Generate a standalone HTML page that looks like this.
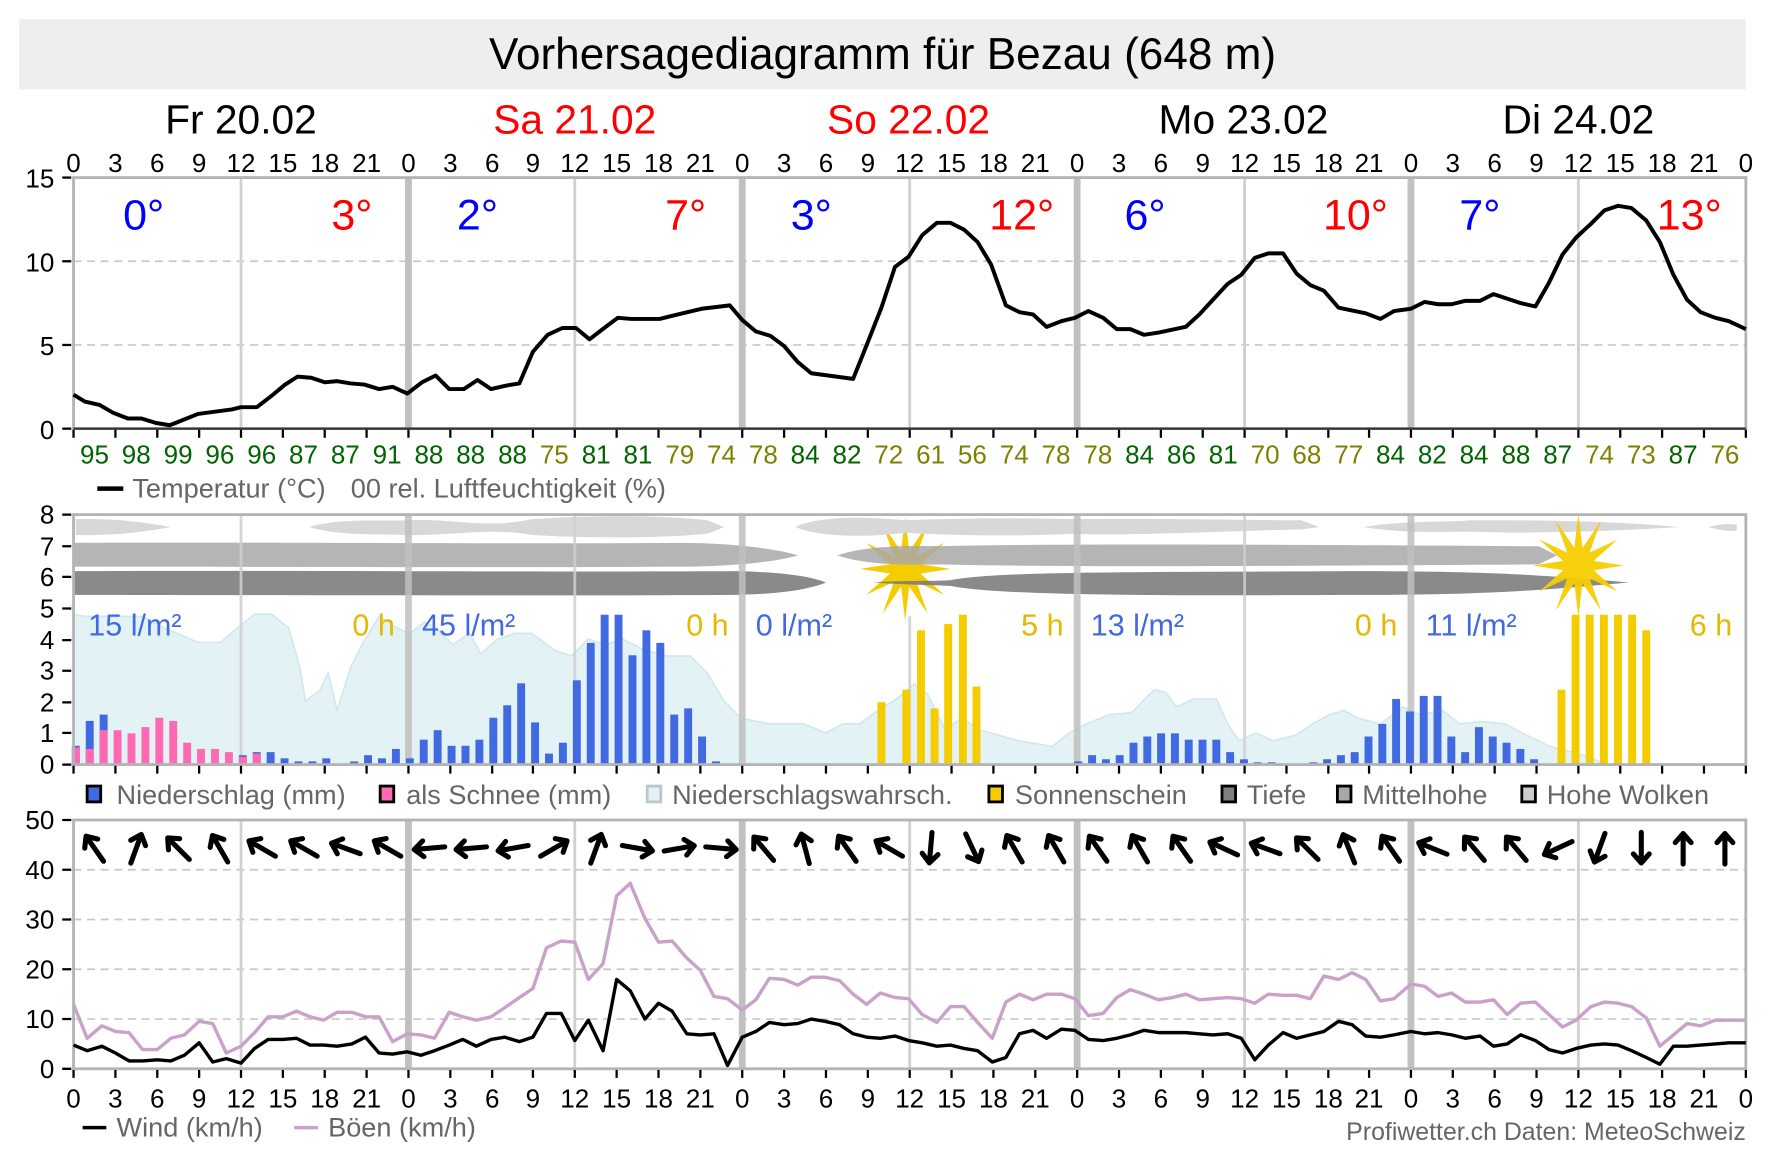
<!DOCTYPE html>
<html><head><meta charset="utf-8"><style>
html,body{margin:0;padding:0;background:#fff;}
svg{display:block;}
text{font-family:"Liberation Sans",Arial,sans-serif;}
</style></head><body>
<svg width="1773" height="1174" viewBox="0 0 1567 1038" preserveAspectRatio="none" xmlns="http://www.w3.org/2000/svg">
<rect x="0" y="0" width="1567" height="1038" fill="#fff"/>
<rect x="17" y="17" width="1526" height="62" fill="#eeeeee"/>
<text x="780" y="61" font-size="39" text-anchor="middle" fill="#000">Vorhersagediagramm für Bezau (648 m)</text>
<g font-size="36" text-anchor="middle">
<text x="213" y="118" fill="#000">Fr 20.02</text>
<text x="508" y="118" fill="#f00">Sa 21.02</text>
<text x="803" y="118" fill="#f00">So 22.02</text>
<text x="1099" y="118" fill="#000">Mo 23.02</text>
<text x="1395" y="118" fill="#000">Di 24.02</text>
</g>
<g font-size="23" text-anchor="middle" fill="#000">
<text x="65" y="152">0</text><text x="102" y="152">3</text><text x="139" y="152">6</text><text x="176" y="152">9</text><text x="213" y="152">12</text><text x="250" y="152">15</text><text x="287" y="152">18</text><text x="324" y="152">21</text>
<text x="361" y="152">0</text><text x="398" y="152">3</text><text x="435" y="152">6</text><text x="471" y="152">9</text><text x="508" y="152">12</text><text x="545" y="152">15</text><text x="582" y="152">18</text><text x="619" y="152">21</text>
<text x="656" y="152">0</text><text x="693" y="152">3</text><text x="730" y="152">6</text><text x="767" y="152">9</text><text x="804" y="152">12</text><text x="841" y="152">15</text><text x="878" y="152">18</text><text x="915" y="152">21</text>
<text x="952" y="152">0</text><text x="989" y="152">3</text><text x="1026" y="152">6</text><text x="1063" y="152">9</text><text x="1100" y="152">12</text><text x="1137" y="152">15</text><text x="1174" y="152">18</text><text x="1210" y="152">21</text>
<text x="1247" y="152">0</text><text x="1284" y="152">3</text><text x="1321" y="152">6</text><text x="1358" y="152">9</text><text x="1395" y="152">12</text><text x="1432" y="152">15</text><text x="1469" y="152">18</text><text x="1506" y="152">21</text><text x="1543" y="152">0</text>
</g>

<g stroke="#c8c8c8" stroke-width="1.5" stroke-dasharray="7,5">
<line x1="65" y1="231" x2="1543" y2="231"/><line x1="65" y1="305" x2="1543" y2="305"/>
</g>
<g stroke="#d0d0d0" stroke-width="2.5">
<line x1="213" y1="157" x2="213" y2="379"/><line x1="508" y1="157" x2="508" y2="379"/><line x1="804" y1="157" x2="804" y2="379"/><line x1="1100" y1="157" x2="1100" y2="379"/><line x1="1395" y1="157" x2="1395" y2="379"/>
</g>
<g stroke="#c0c0c0" stroke-width="6">
<line x1="361" y1="157" x2="361" y2="379"/><line x1="656" y1="157" x2="656" y2="379"/><line x1="952" y1="157" x2="952" y2="379"/><line x1="1247" y1="157" x2="1247" y2="379"/>
</g>
<rect x="65" y="157" width="1478" height="222" fill="none" stroke="#b4b4b4" stroke-width="2.5"/>
<line x1="65" y1="379" x2="1543" y2="379" stroke="#333" stroke-width="2"/>
<g font-size="23" text-anchor="end" fill="#000">
<text x="48" y="166">15</text><text x="48" y="240">10</text><text x="48" y="314">5</text><text x="48" y="388">0</text>
</g>
<g stroke="#000" stroke-width="2">
<line x1="55" y1="157" x2="63" y2="157"/><line x1="55" y1="231" x2="63" y2="231"/><line x1="55" y1="305" x2="63" y2="305"/><line x1="55" y1="379" x2="63" y2="379"/>
</g>
<g font-size="38" text-anchor="middle">
<text x="127" y="203" fill="#00f">0°</text><text x="311" y="203" fill="#f00">3°</text>
<text x="422" y="203" fill="#00f">2°</text><text x="606" y="203" fill="#f00">7°</text>
<text x="717" y="203" fill="#00f">3°</text><text x="903" y="203" fill="#f00">12°</text>
<text x="1012" y="203" fill="#00f">6°</text><text x="1198" y="203" fill="#f00">10°</text>
<text x="1308" y="203" fill="#00f">7°</text><text x="1493" y="203" fill="#f00">13°</text>
</g>
<polyline fill="none" stroke="#000" stroke-width="3.5" stroke-linejoin="round" points="65,349 75,355 88,358 100,365 113,370 125,370 138,374 150,376 160,372 175,366 190,364 205,362 213,360 227,360 240,350 252,340 263,333 275,334 287,338 298,337 310,339 322,340 335,344 347,342 360,348 373,338 385,332 397,344 410,344 422,336 434,344 447,341 459,339 471,311 484,296 497,290 509,290 521,300 534,290 546,281 558,282 583,282 595,279 620,273 645,270 656,283 668,293 681,297 693,306 705,320 717,330 754,335 766,305 779,272 791,236 803,227 815,208 828,197 840,197 852,203 864,214 876,234 889,270 901,276 913,278 925,289 938,284 950,281 962,275 975,281 987,291 999,291 1011,296 1024,294 1048,289 1060,278 1072,265 1085,251 1097,243 1109,228 1121,224 1134,224 1146,242 1158,252 1170,257 1183,272 1207,277 1220,282 1232,275 1247,273 1259,267 1271,269 1283,269 1295,266 1308,266 1320,260 1332,264 1344,268 1357,271 1369,250 1381,225 1393,210 1406,198 1418,186 1430,182 1442,184 1455,195 1467,214 1479,243 1491,265 1503,276 1516,281 1528,284 1543,291"/>
<g stroke="#000" stroke-width="2">
<path d="M65,380v7M102,380v7M139,380v7M176,380v7M213,380v7M250,380v7M287,380v7M324,380v7M361,380v7M398,380v7M435,380v7M471,380v7M508,380v7M545,380v7M582,380v7M619,380v7M656,380v7M693,380v7M730,380v7M767,380v7M804,380v7M841,380v7M878,380v7M915,380v7M952,380v7M989,380v7M1026,380v7M1063,380v7M1100,380v7M1137,380v7M1174,380v7M1210,380v7M1247,380v7M1284,380v7M1321,380v7M1358,380v7M1395,380v7M1432,380v7M1469,380v7M1506,380v7M1543,380v7"/>
</g>
<g font-size="23" text-anchor="middle">
<text x="83.5" y="410" fill="#006400">95</text><text x="120.4" y="410" fill="#006400">98</text><text x="157.4" y="410" fill="#006400">99</text><text x="194.3" y="410" fill="#006400">96</text><text x="231.3" y="410" fill="#006400">96</text><text x="268.2" y="410" fill="#006400">87</text><text x="305.2" y="410" fill="#006400">87</text><text x="342.1" y="410" fill="#006400">91</text>
<text x="379.1" y="410" fill="#006400">88</text><text x="416" y="410" fill="#006400">88</text><text x="453" y="410" fill="#006400">88</text><text x="489.9" y="410" fill="#808000">75</text><text x="526.9" y="410" fill="#006400">81</text><text x="563.8" y="410" fill="#006400">81</text><text x="600.8" y="410" fill="#808000">79</text><text x="637.7" y="410" fill="#808000">74</text>
<text x="674.7" y="410" fill="#808000">78</text><text x="711.6" y="410" fill="#006400">84</text><text x="748.6" y="410" fill="#006400">82</text><text x="785.5" y="410" fill="#808000">72</text><text x="822.5" y="410" fill="#808000">61</text><text x="859.4" y="410" fill="#808000">56</text><text x="896.4" y="410" fill="#808000">74</text><text x="933.3" y="410" fill="#808000">78</text>
<text x="970.3" y="410" fill="#808000">78</text><text x="1007.2" y="410" fill="#006400">84</text><text x="1044.2" y="410" fill="#006400">86</text><text x="1081.1" y="410" fill="#006400">81</text><text x="1118.1" y="410" fill="#808000">70</text><text x="1155" y="410" fill="#808000">68</text><text x="1192" y="410" fill="#808000">77</text><text x="1228.9" y="410" fill="#006400">84</text>
<text x="1265.9" y="410" fill="#006400">82</text><text x="1302.8" y="410" fill="#006400">84</text><text x="1339.8" y="410" fill="#006400">88</text><text x="1376.7" y="410" fill="#006400">87</text><text x="1413.7" y="410" fill="#808000">74</text><text x="1450.6" y="410" fill="#808000">73</text><text x="1487.6" y="410" fill="#006400">87</text><text x="1524.5" y="410" fill="#808000">76</text>
</g>
<line x1="86" y1="432" x2="109" y2="432" stroke="#000" stroke-width="4"/>
<text x="117" y="440" font-size="24" fill="#666">Temperatur (°C)</text>
<text x="310" y="440" font-size="24" fill="#666">00 rel. Luftfeuchtigkeit (%)</text>

<!-- PLOT 2 -->
<polygon fill="#e3f2f5" stroke="#d2e8ee" stroke-width="1.5" points="65,676 65,543 75,545 90,545 125,545 145,555 175,568 195,568 210,555 225,543 240,543 255,555 265,590 270,620 283,610 290,595 298,628 310,590 320,570 335,545 350,555 362,560 375,550 385,555 400,570 415,560 425,578 440,565 455,560 470,560 490,575 505,580 520,565 535,570 550,565 570,575 590,580 610,580 625,595 640,620 655,635 680,640 710,640 730,648 745,640 760,640 780,625 790,620 808,605 820,614 835,645 850,635 865,645 900,655 930,660 945,648 960,640 980,632 1000,630 1010,620 1020,610 1030,612 1040,625 1055,618 1075,618 1085,640 1095,655 1110,648 1125,655 1145,650 1160,640 1175,632 1188,628 1200,635 1220,640 1240,625 1255,632 1275,628 1290,640 1310,638 1330,640 1345,648 1370,660 1400,668 1420,676"/>
<g fill="#f5cc00">
<polygon transform="translate(800,503) scale(1,1.15)" points="0,-40 3.6,-13.5 20,-34.6 9.9,-9.9 34.6,-20 13.5,-3.6 40,0 13.5,3.6 34.6,20 9.9,9.9 20,34.6 3.6,13.5 0,40 -3.6,13.5 -20,34.6 -9.9,9.9 -34.6,20 -13.5,3.6 -40,0 -13.5,-3.6 -34.6,-20 -9.9,-9.9 -20,-34.6 -3.6,-13.5"/>
</g>
<g fill="#d8d8d8">
<path d="M67,459 C100,458 130,462 151,466 C130,470 100,474 67,473 Z"/>
<path d="M273,466 C300,458 330,461 360,460 C400,458 430,468 470,459 C520,456 580,455 625,460 L640,466 L625,472 C580,476 520,476 470,473 C430,466 400,474 360,473 C330,472 300,474 273,466 Z"/>
<path d="M703,466 C720,457 760,456 800,460 C850,458 900,458 950,459 C1000,458 1100,460 1150,460 L1166,466 L1150,468 C1100,469 1000,474 950,472 C900,474 850,474 800,471 C760,476 720,474 703,466 Z"/>
<path d="M1205,466 C1240,460 1280,462 1300,460 C1350,460 1420,460 1484,466 C1420,470 1350,472 1300,470 C1280,470 1240,472 1205,466 Z"/>
<path d="M1510,466 C1520,463 1530,463 1535,464 L1535,469 C1530,470 1520,469 1510,466 Z"/>
</g>
<g fill="#a8a8a8" fill-opacity="0.85">
<path d="M65,480 C200,479 400,481 600,480 C650,480 690,486 705,491 C690,496 650,501 600,501 C400,502 200,501 65,501 Z"/>
<path d="M740,491 C760,484 790,482 830,483 C950,480 1200,482 1360,483 L1376,491 L1360,499 C1200,500 950,502 830,499 C790,500 760,498 740,491 Z"/>
</g>
<g fill="#7a7a7a" fill-opacity="0.88">
<path d="M65,505 C250,504 500,506 650,505 C700,506 720,511 730,515 C720,519 700,525 650,526 C500,527 250,526 65,526 Z"/>
<path d="M772,515 C800,513 820,514 840,513 C880,505 1000,506 1200,505 C1330,505 1380,510 1440,515 C1380,520 1330,526 1200,526 C1000,527 880,526 840,518 C820,517 800,517 772,515 Z"/>
</g>
<g fill="#f5cc00" fill-opacity="0.95">
<polygon transform="translate(1395,500) scale(1,1.15)" points="0,-40 3.6,-13.5 20,-34.6 9.9,-9.9 34.6,-20 13.5,-3.6 40,0 13.5,3.6 34.6,20 9.9,9.9 20,34.6 3.6,13.5 0,40 -3.6,13.5 -20,34.6 -9.9,9.9 -34.6,20 -13.5,3.6 -40,0 -13.5,-3.6 -34.6,-20 -9.9,-9.9 -20,-34.6 -3.6,-13.5"/>
</g>
<g stroke="#c0c0c0" stroke-width="6" opacity="0.85">
<line x1="361" y1="455" x2="361" y2="676"/><line x1="656" y1="455" x2="656" y2="676"/><line x1="952" y1="455" x2="952" y2="676"/><line x1="1247" y1="455" x2="1247" y2="676"/>
</g>
<g stroke="#d0d0d0" stroke-width="2.5" opacity="0.85">
<line x1="213" y1="455" x2="213" y2="676"/><line x1="508" y1="455" x2="508" y2="676"/><line x1="804" y1="545" x2="804" y2="676"/><line x1="1100" y1="455" x2="1100" y2="676"/>
</g>
<g fill="#4169e1">
<rect x="63.5" y="659.4" width="7" height="16.6"/><rect x="75.8" y="637.4" width="7" height="38.6"/><rect x="88.1" y="631.8" width="7" height="44.2"/>
<rect x="211.1" y="667.7" width="7" height="8.3"/><rect x="223.4" y="665" width="7" height="11"/><rect x="235.7" y="665" width="7" height="11"/>
<rect x="248" y="670.5" width="7" height="5.5"/><rect x="260.3" y="673.2" width="7" height="2.8"/><rect x="272.6" y="673.2" width="7" height="2.8"/><rect x="284.9" y="670.5" width="7" height="5.5"/>
<rect x="309.5" y="673.2" width="7" height="2.8"/><rect x="321.8" y="667.7" width="7" height="8.3"/><rect x="334.1" y="670.5" width="7" height="5.5"/><rect x="346.4" y="662.2" width="7" height="13.8"/>
<rect x="358.7" y="670.5" width="7" height="5.5"/><rect x="371" y="654" width="7" height="22"/><rect x="383.3" y="645.6" width="7" height="30.4"/><rect x="395.6" y="659.4" width="7" height="16.6"/>
<rect x="407.9" y="659.4" width="7" height="16.6"/><rect x="420.2" y="654" width="7" height="22"/><rect x="432.5" y="634.6" width="7" height="41.4"/><rect x="444.8" y="623.6" width="7" height="52.4"/>
<rect x="457.1" y="604.2" width="7" height="71.8"/><rect x="469.4" y="638.7" width="7" height="37.3"/><rect x="481.7" y="666.3" width="7" height="9.7"/><rect x="494" y="656.7" width="7" height="19.3"/>
<rect x="506.3" y="601.5" width="7" height="74.5"/><rect x="518.6" y="568.4" width="7" height="107.6"/><rect x="530.9" y="543.5" width="7" height="132.5"/><rect x="543.2" y="543.5" width="7" height="132.5"/>
<rect x="555.5" y="579.4" width="7" height="96.6"/><rect x="567.8" y="557.3" width="7" height="118.7"/><rect x="580.1" y="568.4" width="7" height="107.6"/><rect x="592.4" y="631.8" width="7" height="44.2"/>
<rect x="604.7" y="626.3" width="7" height="49.7"/><rect x="617" y="651.2" width="7" height="24.8"/><rect x="629.3" y="673.2" width="7" height="2.8"/>
<rect x="949.5" y="673.2" width="7" height="2.8"/><rect x="961.7" y="667.7" width="7" height="8.3"/><rect x="973.9" y="671.3" width="7" height="4.7"/><rect x="986.1" y="667.7" width="7" height="8.3"/>
<rect x="998.3" y="656.7" width="7" height="19.3"/><rect x="1010.5" y="651.2" width="7" height="24.8"/><rect x="1022.7" y="648.4" width="7" height="27.6"/><rect x="1034.9" y="648.4" width="7" height="27.6"/>
<rect x="1047.1" y="654" width="7" height="22"/><rect x="1059.3" y="654" width="7" height="22"/><rect x="1071.5" y="654" width="7" height="22"/><rect x="1083.7" y="665" width="7" height="11"/>
<rect x="1095.9" y="671.3" width="7" height="4.7"/><rect x="1108.1" y="674" width="7" height="2"/><rect x="1120.3" y="674" width="7" height="2"/>
<rect x="1157.2" y="674" width="7" height="2"/><rect x="1169.4" y="671.3" width="7" height="4.7"/><rect x="1181.6" y="667.7" width="7" height="8.3"/><rect x="1193.8" y="665" width="7" height="11"/>
<rect x="1206" y="651.2" width="7" height="24.8"/><rect x="1218.2" y="640.1" width="7" height="35.9"/><rect x="1230.4" y="618" width="7" height="58"/><rect x="1242.6" y="629.1" width="7" height="46.9"/>
<rect x="1254.8" y="615.3" width="7" height="60.7"/><rect x="1267" y="615.3" width="7" height="60.7"/><rect x="1279.2" y="651.2" width="7" height="24.8"/><rect x="1291.4" y="665" width="7" height="11"/>
<rect x="1303.6" y="642.9" width="7" height="33.1"/><rect x="1315.8" y="651.2" width="7" height="24.8"/><rect x="1328" y="656.7" width="7" height="19.3"/><rect x="1340.2" y="662.2" width="7" height="13.8"/><rect x="1352.4" y="671.3" width="7" height="4.7"/>
</g>
<g fill="#ff69b4">
<rect x="63.5" y="660.8" width="7" height="15.2"/><rect x="75.8" y="662.2" width="7" height="13.8"/><rect x="88.1" y="645.6" width="7" height="30.4"/>
<rect x="100.4" y="645.6" width="7" height="30.4"/><rect x="112.7" y="648.4" width="7" height="27.6"/><rect x="125" y="642.9" width="7" height="33.1"/><rect x="137.3" y="634.6" width="7" height="41.4"/>
<rect x="149.6" y="637.4" width="7" height="38.6"/><rect x="161.9" y="656.7" width="7" height="19.3"/><rect x="174.2" y="662.2" width="7" height="13.8"/><rect x="186.5" y="662.2" width="7" height="13.8"/>
<rect x="198.8" y="665" width="7" height="11"/><rect x="211.1" y="669.1" width="7" height="6.9"/><rect x="223.4" y="666.3" width="7" height="9.7"/>
</g>
<g fill="#f5cc00">
<rect x="775.5" y="620.8" width="7" height="55.2"/><rect x="797.5" y="609.8" width="7" height="66.2"/><rect x="810.5" y="557.3" width="7" height="118.7"/><rect x="822.5" y="626.3" width="7" height="49.7"/>
<rect x="834.5" y="551.8" width="7" height="124.2"/><rect x="847.5" y="543.5" width="7" height="132.5"/><rect x="859.5" y="607" width="7" height="69"/>
<rect x="1376.5" y="609.8" width="7" height="66.2"/><rect x="1389" y="543.5" width="7" height="132.5"/><rect x="1401.5" y="543.5" width="7" height="132.5"/><rect x="1414" y="543.5" width="7" height="132.5"/>
<rect x="1426.5" y="543.5" width="7" height="132.5"/><rect x="1439" y="543.5" width="7" height="132.5"/><rect x="1451.5" y="557.3" width="7" height="118.7"/>
</g>
<g font-size="27">
<text x="78" y="562" fill="#4169e1">15 l/m²</text><text x="349" y="562" fill="#e6b800" text-anchor="end">0 h</text>
<text x="373" y="562" fill="#4169e1">45 l/m²</text><text x="644" y="562" fill="#e6b800" text-anchor="end">0 h</text>
<text x="668" y="562" fill="#4169e1">0 l/m²</text><text x="940" y="562" fill="#e6b800" text-anchor="end">5 h</text>
<text x="964" y="562" fill="#4169e1">13 l/m²</text><text x="1235" y="562" fill="#e6b800" text-anchor="end">0 h</text>
<text x="1260" y="562" fill="#4169e1">11 l/m²</text><text x="1531" y="562" fill="#e6b800" text-anchor="end">6 h</text>
</g>
<rect x="65" y="455" width="1478" height="221" fill="none" stroke="#b4b4b4" stroke-width="2.5"/>
<g font-size="23" text-anchor="end" fill="#000">
<text x="48" y="463">8</text><text x="48" y="491">7</text><text x="48" y="518">6</text><text x="48" y="546">5</text><text x="48" y="574">4</text><text x="48" y="601">3</text><text x="48" y="629">2</text><text x="48" y="656">1</text><text x="48" y="684">0</text>
</g>
<g stroke="#000" stroke-width="2">
<path d="M55,455h8M55,483h8M55,510h8M55,538h8M55,566h8M55,593h8M55,621h8M55,648h8M55,676h8"/>
<path d="M65,677v7M102,677v7M139,677v7M176,677v7M213,677v7M250,677v7M287,677v7M324,677v7M361,677v7M398,677v7M435,677v7M471,677v7M508,677v7M545,677v7M582,677v7M619,677v7M656,677v7M693,677v7M730,677v7M767,677v7M804,677v7M841,677v7M878,677v7M915,677v7M952,677v7M989,677v7M1026,677v7M1063,677v7M1100,677v7M1137,677v7M1174,677v7M1210,677v7M1247,677v7M1284,677v7M1321,677v7M1358,677v7M1395,677v7M1432,677v7M1469,677v7M1506,677v7M1543,677v7"/>
</g>
<g stroke-width="2.5" stroke="#000">
<rect x="77" y="695" width="12" height="14" fill="#4169e1"/>
<rect x="336" y="695" width="12" height="14" fill="#ff69b4"/>
<rect x="572" y="695" width="12" height="14" fill="#e3f2f5" stroke="#b8c8cc"/>
<rect x="874" y="695" width="12" height="14" fill="#f5cc00"/>
<rect x="1080" y="695" width="12" height="14" fill="#808080"/>
<rect x="1182" y="695" width="12" height="14" fill="#a8a8a8"/>
<rect x="1345" y="695" width="12" height="14" fill="#cccccc"/>
</g>
<g font-size="24" fill="#666">
<text x="103" y="711">Niederschlag (mm)</text><text x="359" y="711">als Schnee (mm)</text><text x="594" y="711">Niederschlagswahrsch.</text>
<text x="897" y="711">Sonnenschein</text><text x="1102" y="711">Tiefe</text><text x="1204" y="711">Mittelhohe</text><text x="1367" y="711">Hohe Wolken</text>
</g>

<!-- PLOT 3 -->
<g stroke="#c8c8c8" stroke-width="1.5" stroke-dasharray="7,5">
<line x1="65" y1="769" x2="1543" y2="769"/><line x1="65" y1="813" x2="1543" y2="813"/><line x1="65" y1="857" x2="1543" y2="857"/><line x1="65" y1="901" x2="1543" y2="901"/>
</g>
<g stroke="#d0d0d0" stroke-width="2.5">
<line x1="213" y1="725" x2="213" y2="945"/><line x1="508" y1="725" x2="508" y2="945"/><line x1="804" y1="725" x2="804" y2="945"/><line x1="1100" y1="725" x2="1100" y2="945"/><line x1="1395" y1="725" x2="1395" y2="945"/>
</g>
<g stroke="#c0c0c0" stroke-width="6">
<line x1="361" y1="725" x2="361" y2="945"/><line x1="656" y1="725" x2="656" y2="945"/><line x1="952" y1="725" x2="952" y2="945"/><line x1="1247" y1="725" x2="1247" y2="945"/>
</g>
<rect x="65" y="725" width="1478" height="220" fill="none" stroke="#b4b4b4" stroke-width="2.5"/>
<g font-size="23" text-anchor="end" fill="#000">
<text x="48" y="733">50</text><text x="48" y="777">40</text><text x="48" y="821">30</text><text x="48" y="865">20</text><text x="48" y="909">10</text><text x="48" y="953">0</text>
</g>
<g stroke="#000" stroke-width="2">
<path d="M55,725h8M55,769h8M55,813h8M55,857h8M55,901h8M55,945h8"/>
<path d="M65,946v7M102,946v7M139,946v7M176,946v7M213,946v7M250,946v7M287,946v7M324,946v7M361,946v7M398,946v7M435,946v7M471,946v7M508,946v7M545,946v7M582,946v7M619,946v7M656,946v7M693,946v7M730,946v7M767,946v7M804,946v7M841,946v7M878,946v7M915,946v7M952,946v7M989,946v7M1026,946v7M1063,946v7M1100,946v7M1137,946v7M1174,946v7M1210,946v7M1247,946v7M1284,946v7M1321,946v7M1358,946v7M1395,946v7M1432,946v7M1469,946v7M1506,946v7M1543,946v7"/>
</g>
<polyline fill="none" stroke="#c8a2c8" stroke-width="3" stroke-linejoin="round" points="65,888 77,918 90,907 102,912 114,913 126,928 139,928 151,918 163,915 176,903 188,905 200,931 213,925 225,913 237,899 250,899 262,894 274,899 286,902 298,895 311,895 323,899 335,899 347,921 360,914 372,915 384,918 397,895 409,899 421,902 434,899 446,891 459,882 471,874 483,838 496,832 508,833 520,866 533,852 545,792 557,781 570,812 582,833 594,832 607,847 619,858 631,881 643,883 656,893 668,884 680,865 693,866 705,871 717,864 729,864 742,867 754,879 766,888 778,878 791,882 803,883 815,897 828,904 840,890 852,890 864,904 877,918 889,886 901,879 913,884 925,879 938,879 950,883 962,898 975,896 987,882 999,875 1011,879 1024,884 1036,882 1048,879 1060,884 1072,883 1085,882 1097,883 1109,887 1121,879 1134,880 1146,880 1158,883 1170,863 1183,866 1195,860 1207,866 1220,885 1232,883 1247,870 1259,872 1271,881 1283,878 1295,886 1308,886 1320,884 1332,897 1344,887 1357,886 1369,897 1381,908 1393,902 1406,890 1418,886 1430,887 1442,890 1455,900 1467,925 1479,915 1491,905 1503,907 1516,902 1528,902 1543,902"/>
<polyline fill="none" stroke="#000" stroke-width="3" stroke-linejoin="round" points="65,924 77,929 90,925 102,931 114,938 126,938 139,937 151,938 163,933 176,922 188,939 200,936 213,940 225,927 237,919 250,919 262,918 274,924 286,924 298,925 311,923 323,917 335,931 347,932 360,930 372,933 384,929 397,924 409,919 421,925 434,919 446,917 459,921 471,917 483,896 496,896 508,920 520,902 533,929 545,866 557,876 570,901 582,887 594,894 607,914 619,915 631,914 643,942 656,917 668,912 680,904 693,906 705,905 717,901 729,903 742,906 754,914 766,917 778,918 791,916 803,920 815,922 828,925 840,924 852,927 864,929 877,939 889,935 901,914 913,911 925,918 938,910 950,911 962,919 975,920 987,918 999,915 1011,911 1024,913 1036,913 1048,913 1060,914 1072,915 1085,914 1097,918 1109,937 1121,924 1134,913 1146,918 1158,915 1170,912 1183,903 1195,906 1207,916 1220,917 1232,915 1247,912 1259,914 1271,913 1283,915 1295,918 1308,916 1320,925 1332,923 1344,915 1357,920 1369,928 1381,931 1393,927 1406,924 1418,923 1430,924 1442,929 1455,935 1467,941 1479,925 1491,925 1503,924 1516,923 1528,922 1543,922"/>
<defs><path id="ar" d="M0,14 L0,-13 M-7,-5 L0,-13 L7,-5" fill="none" stroke="#000" stroke-width="4.5" stroke-linecap="round" stroke-linejoin="round"/></defs>
<g>
<use href="#ar" transform="translate(83.5,750) rotate(-35)"/><use href="#ar" transform="translate(120.4,750) rotate(20)"/><use href="#ar" transform="translate(157.4,750) rotate(-45)"/><use href="#ar" transform="translate(194.3,750) rotate(-30)"/>
<use href="#ar" transform="translate(231.3,750) rotate(-60)"/><use href="#ar" transform="translate(268.2,750) rotate(-60)"/><use href="#ar" transform="translate(305.2,750) rotate(-70)"/><use href="#ar" transform="translate(342.1,750) rotate(-60)"/>
<use href="#ar" transform="translate(379.1,750) rotate(-95)"/><use href="#ar" transform="translate(416,750) rotate(-95)"/><use href="#ar" transform="translate(453,750) rotate(-100)"/><use href="#ar" transform="translate(489.9,750) rotate(60)"/>
<use href="#ar" transform="translate(526.9,750) rotate(20)"/><use href="#ar" transform="translate(563.8,750) rotate(100)"/><use href="#ar" transform="translate(600.8,750) rotate(80)"/><use href="#ar" transform="translate(637.7,750) rotate(95)"/>
<use href="#ar" transform="translate(674.7,750) rotate(-40)"/><use href="#ar" transform="translate(711.6,750) rotate(-15)"/><use href="#ar" transform="translate(748.6,750) rotate(-35)"/><use href="#ar" transform="translate(785.5,750) rotate(-60)"/>
<use href="#ar" transform="translate(822.5,750) rotate(185)"/><use href="#ar" transform="translate(859.4,750) rotate(155)"/><use href="#ar" transform="translate(896.4,750) rotate(-30)"/><use href="#ar" transform="translate(933.3,750) rotate(-30)"/>
<use href="#ar" transform="translate(970.3,750) rotate(-35)"/><use href="#ar" transform="translate(1007.2,750) rotate(-30)"/><use href="#ar" transform="translate(1044.2,750) rotate(-35)"/><use href="#ar" transform="translate(1081.1,750) rotate(-65)"/>
<use href="#ar" transform="translate(1118.1,750) rotate(-70)"/><use href="#ar" transform="translate(1155,750) rotate(-45)"/><use href="#ar" transform="translate(1192,750) rotate(-22)"/><use href="#ar" transform="translate(1228.9,750) rotate(-35)"/>
<use href="#ar" transform="translate(1265.9,750) rotate(-68)"/><use href="#ar" transform="translate(1302.8,750) rotate(-40)"/><use href="#ar" transform="translate(1339.8,750) rotate(-40)"/><use href="#ar" transform="translate(1376.7,750) rotate(-115)"/>
<use href="#ar" transform="translate(1413.7,750) rotate(200)"/><use href="#ar" transform="translate(1450.6,750) rotate(180)"/><use href="#ar" transform="translate(1487.6,750) rotate(0)"/><use href="#ar" transform="translate(1524.5,750) rotate(0)"/>
</g>
<g font-size="23" text-anchor="middle" fill="#000">
<text x="65" y="979">0</text><text x="102" y="979">3</text><text x="139" y="979">6</text><text x="176" y="979">9</text><text x="213" y="979">12</text><text x="250" y="979">15</text><text x="287" y="979">18</text><text x="324" y="979">21</text>
<text x="361" y="979">0</text><text x="398" y="979">3</text><text x="435" y="979">6</text><text x="471" y="979">9</text><text x="508" y="979">12</text><text x="545" y="979">15</text><text x="582" y="979">18</text><text x="619" y="979">21</text>
<text x="656" y="979">0</text><text x="693" y="979">3</text><text x="730" y="979">6</text><text x="767" y="979">9</text><text x="804" y="979">12</text><text x="841" y="979">15</text><text x="878" y="979">18</text><text x="915" y="979">21</text>
<text x="952" y="979">0</text><text x="989" y="979">3</text><text x="1026" y="979">6</text><text x="1063" y="979">9</text><text x="1100" y="979">12</text><text x="1137" y="979">15</text><text x="1174" y="979">18</text><text x="1210" y="979">21</text>
<text x="1247" y="979">0</text><text x="1284" y="979">3</text><text x="1321" y="979">6</text><text x="1358" y="979">9</text><text x="1395" y="979">12</text><text x="1432" y="979">15</text><text x="1469" y="979">18</text><text x="1506" y="979">21</text><text x="1543" y="979">0</text>
</g>
<line x1="73" y1="997" x2="94" y2="997" stroke="#000" stroke-width="3"/>
<text x="103" y="1005" font-size="24" fill="#666">Wind (km/h)</text>
<line x1="260" y1="997" x2="281" y2="997" stroke="#c8a2c8" stroke-width="3"/>
<text x="290" y="1005" font-size="24" fill="#666">Böen (km/h)</text>
<text x="1543" y="1008" font-size="22" fill="#666" text-anchor="end">Profiwetter.ch Daten: MeteoSchweiz</text>
</svg>
</body></html>
